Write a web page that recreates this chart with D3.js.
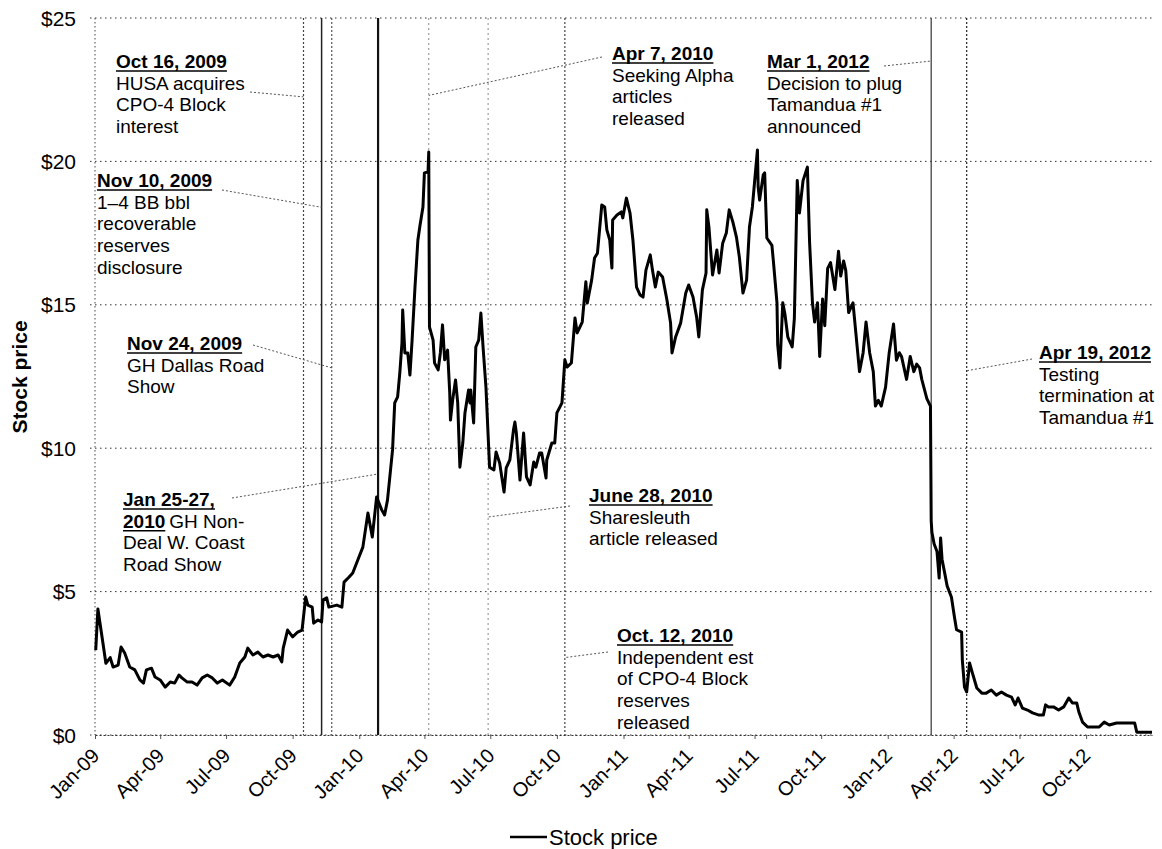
<!DOCTYPE html>
<html>
<head>
<meta charset="utf-8">
<script src="https://cdn.jsdelivr.net/npm/d3@7"></script>
<style>
body{margin:0;background:#fff}
svg{font-family:"Liberation Sans",Arial,sans-serif}
</style>
</head>
<body>
<svg id="chart" width="1162" height="849"></svg>
<script>
// stock price
const priceDates = [
"2009-01-02","2009-01-05","2009-01-12","2009-01-16","2009-01-22","2009-01-26","2009-02-02","2009-02-06","2009-02-11","2009-02-18",
"2009-02-25","2009-03-04","2009-03-09","2009-03-13","2009-03-20","2009-03-25","2009-04-01","2009-04-08","2009-04-15","2009-04-21",
"2009-04-27","2009-05-01","2009-05-08","2009-05-15","2009-05-22","2009-05-29","2009-06-05","2009-06-12","2009-06-19","2009-06-26",
"2009-07-06","2009-07-13","2009-07-20","2009-07-27","2009-07-31","2009-08-07","2009-08-14","2009-08-21","2009-08-28","2009-09-04",
"2009-09-11","2009-09-16","2009-09-18","2009-09-24","2009-10-01","2009-10-08","2009-10-14","2009-10-19","2009-10-22","2009-10-28",
"2009-10-30","2009-11-05","2009-11-10","2009-11-12","2009-11-17","2009-11-20","2009-12-01","2009-12-08","2009-12-11","2009-12-18",
"2009-12-23","2009-12-30",
"2010-01-06","2010-01-13","2010-01-19","2010-01-25","2010-02-01","2010-02-05","2010-02-09","2010-02-16","2010-02-19","2010-02-23",
"2010-02-26","2010-03-01","2010-03-02","2010-03-05","2010-03-09","2010-03-12","2010-03-15","2010-03-19","2010-03-23","2010-03-26",
"2010-03-30","2010-04-01","2010-04-06","2010-04-07","2010-04-08","2010-04-13","2010-04-15","2010-04-20","2010-04-23","2010-04-26",
"2010-04-29","2010-05-03","2010-05-06","2010-05-07","2010-05-10","2010-05-14","2010-05-17","2010-05-20","2010-05-24","2010-05-27",
"2010-06-01","2010-06-03","2010-06-04","2010-06-08","2010-06-11","2010-06-15","2010-06-18","2010-06-21","2010-06-25","2010-06-30",
"2010-07-06","2010-07-09","2010-07-14","2010-07-20","2010-07-23","2010-07-28","2010-08-02","2010-08-04","2010-08-06","2010-08-11",
"2010-08-16","2010-08-20","2010-08-25","2010-08-30","2010-09-02","2010-09-07","2010-09-10","2010-09-16","2010-09-17","2010-09-24",
"2010-09-28","2010-10-01","2010-10-08","2010-10-12","2010-10-15","2010-10-21","2010-10-26","2010-10-29","2010-11-05","2010-11-10",
"2010-11-12","2010-11-18","2010-11-22","2010-11-26","2010-12-02","2010-12-06","2010-12-09","2010-12-13","2010-12-16","2010-12-17",
"2010-12-23","2010-12-29","2010-12-31",
"2011-01-05","2011-01-10","2011-01-14","2011-01-19","2011-01-24","2011-01-28","2011-02-01","2011-02-07","2011-02-10","2011-02-14",
"2011-02-18","2011-02-24","2011-03-02","2011-03-07","2011-03-09","2011-03-14","2011-03-21","2011-03-28","2011-04-01","2011-04-07",
"2011-04-12","2011-04-15","2011-04-20","2011-04-25","2011-04-26","2011-04-29","2011-05-04","2011-05-10","2011-05-13","2011-05-18",
"2011-05-23","2011-05-27","2011-06-01","2011-06-06","2011-06-10","2011-06-15","2011-06-20","2011-06-24","2011-06-28","2011-07-05",
"2011-07-06","2011-07-08","2011-07-13","2011-07-15","2011-07-18","2011-07-25","2011-07-27","2011-08-01","2011-08-02","2011-08-05",
"2011-08-09","2011-08-12","2011-08-16","2011-08-22","2011-08-25","2011-08-29","2011-09-01","2011-09-06","2011-09-12","2011-09-15",
"2011-09-19","2011-09-22","2011-09-26","2011-09-29","2011-10-03","2011-10-06","2011-10-10","2011-10-14","2011-10-20","2011-10-25",
"2011-10-28","2011-11-01","2011-11-04","2011-11-08","2011-11-14","2011-11-18","2011-11-23","2011-11-28","2011-12-02","2011-12-07",
"2011-12-12","2011-12-15","2011-12-19","2011-12-23","2011-12-29",
"2012-01-03","2012-01-09","2012-01-13","2012-01-17","2012-01-20","2012-01-27","2012-02-01","2012-02-06","2012-02-10","2012-02-14",
"2012-02-17","2012-02-24","2012-02-29","2012-03-01","2012-03-02","2012-03-05","2012-03-09","2012-03-12","2012-03-14","2012-03-16",
"2012-03-20","2012-03-23","2012-03-29","2012-04-02","2012-04-05","2012-04-12","2012-04-13","2012-04-16","2012-04-19","2012-04-23",
"2012-04-27","2012-05-03","2012-05-10","2012-05-16","2012-05-23","2012-05-30","2012-06-06","2012-06-13","2012-06-20","2012-06-25",
"2012-06-29","2012-07-05","2012-07-12","2012-07-19","2012-07-27","2012-08-03","2012-08-06","2012-08-10","2012-08-17","2012-08-24",
"2012-08-31","2012-09-07","2012-09-12","2012-09-18","2012-09-21","2012-09-26","2012-10-03","2012-10-10","2012-10-19","2012-10-26",
"2012-11-02","2012-11-12","2012-11-20","2012-12-03","2012-12-07","2012-12-10","2012-12-18","2012-12-31"
];
const prices = [
2.96,4.39,3.20,2.50,2.70,2.37,2.44,3.07,2.86,2.37,
2.27,1.92,1.81,2.27,2.33,2.02,1.92,1.67,1.85,1.81,
2.09,1.99,1.85,1.85,1.74,1.99,2.09,1.99,1.81,1.92,
1.74,2.02,2.51,2.72,3.03,2.79,2.89,2.72,2.79,2.72,
2.79,2.55,3.03,3.66,3.42,3.59,3.66,4.81,4.53,4.46,
3.90,4.01,3.94,4.71,4.78,4.46,4.53,4.46,5.33,5.51,
5.65,6.10,
6.55,7.74,6.90,8.30,7.85,7.67,8.19,9.94,11.58,11.79,
12.62,13.67,14.82,13.32,13.32,12.55,13.77,15.62,17.26,17.78,
18.41,19.60,19.63,20.33,14.23,13.77,12.97,12.73,13.32,14.30,
13.08,13.42,11.92,10.98,11.68,12.38,11.58,9.34,10.18,11.23,
12.03,11.58,12.03,10.88,13.53,13.77,14.71,13.53,12.13,9.34,
9.24,9.87,9.48,8.47,9.31,9.59,10.63,10.91,10.53,8.89,
10.53,9.00,8.72,9.52,9.34,9.83,9.83,8.96,9.59,10.18,
10.18,11.23,11.58,13.08,12.83,12.97,14.54,14.02,14.40,15.80,
15.06,15.86,16.63,16.80,18.48,18.41,17.61,17.26,16.28,17.96,
18.13,18.24,18.03,
18.72,18.20,17.26,15.62,15.34,15.27,16.21,16.74,16.21,15.62,
16.14,15.97,15.17,14.37,13.32,13.88,14.37,15.41,15.69,15.27,
14.57,13.88,15.52,16.11,18.31,17.71,16.04,16.91,16.11,17.15,
17.50,18.31,17.89,17.36,16.67,15.41,15.86,17.71,18.41,20.40,
19.11,18.65,19.53,19.60,17.33,17.07,16.53,15.07,13.60,12.80,
15.07,14.67,13.87,13.53,14.53,19.33,18.20,19.33,19.80,17.20,
15.07,14.40,15.07,13.20,15.20,14.27,16.27,16.47,15.53,16.87,
16.00,16.53,16.20,14.73,15.07,14.00,12.67,13.33,14.40,13.33,
12.67,11.47,11.67,11.47,12.13,
13.33,14.33,13.07,13.33,13.20,12.40,13.20,12.67,12.93,12.80,
12.40,11.73,11.47,7.47,7.07,6.67,6.40,5.47,6.87,6.13,
5.60,5.20,4.80,4.13,3.67,3.59,2.62,1.67,1.50,2.51,
2.16,1.64,1.46,1.46,1.57,1.39,1.50,1.39,1.32,1.05,
1.29,0.94,0.87,0.77,0.70,0.70,1.05,0.98,0.98,0.87,
0.98,1.29,1.12,1.12,0.80,0.45,0.28,0.28,0.28,0.45,
0.35,0.42,0.42,0.42,0.42,0.10,0.10,0.10
];

const yTicks = [0, 5, 10, 15, 20, 25];
const yTickLabels = ["$0", "$5", "$10", "$15", "$20", "$25"];
const xTickLabels = ["Jan-09","Apr-09","Jul-09","Oct-09","Jan-10","Apr-10","Jul-10","Oct-10",
                     "Jan-11","Apr-11","Jul-11","Oct-11","Jan-12","Apr-12","Jul-12","Oct-12"];

// events
const eventDates = ["2009-10-16","2009-11-10","2009-11-24","2010-01-27","2010-04-07","2010-06-28","2010-10-12","2012-03-01","2012-04-19"];
const eventTitles = ["Oct 16, 2009","Nov 10, 2009","Nov 24, 2009","Jan 25-27,","Apr 7, 2010","June 28, 2010","Oct. 12, 2010","Mar 1, 2012","Apr 19, 2012"];
const eventNotes = [
  ["HUSA acquires","CPO-4 Block","interest"],
  ["1\u20134 BB bbl","recoverable","reserves","disclosure"],
  ["GH Dallas Road","Show"],
  ["2010|GH Non-","Deal W. Coast","Road Show"],
  ["Seeking Alpha","articles","released"],
  ["Sharesleuth","article released"],
  ["Independent est","of CPO-4 Block","reserves","released"],
  ["Decision to plug","Tamandua #1","announced"],
  ["Testing","termination at","Tamandua #1"]
];
// $ level where each leader line meets its event line
const leaderValues = [22.25, 18.4, 12.8, 9.1, 22.3, 7.6, 2.7, 23.5, 12.7];

// layout (pixels) for the annotation boxes
const labelPos = [[116,68],[97,187],[127,350],[123,506],[612,60],[589,502],[617,642],[767,68],[1039,359]];
const leaderStart = [[250,92],[222,190],[253,345],[232,498],[602,57],[570,506],[608,652],[884,66],[1032,359]];
const eventStyle = [
  {c:"#444", w:1.2, d:"2,2"}, {c:"#222", w:1.5, d:null}, {c:"#555", w:1.2, d:"2,2"},
  {c:"#111", w:2.2, d:null},  {c:"#888", w:1, d:"2,3"},  {c:"#888", w:1, d:"2,3"},
  {c:"#444", w:1.2, d:"2,2"}, {c:"#333", w:1.2, d:null}, {c:"#333", w:1.3, d:"2,2"}
];

const parse = d3.timeParse("%Y-%m-%d");
const parseTick = d3.timeParse("%b-%y");
const data = priceDates.map((d, i) => ({date: parse(d), v: prices[i]}));

const svg = d3.select("#chart");
const pLeft = 95, pRight = 1152, pTop = 18, pBottom = 735;

const x = d3.scaleTime().domain([parse("2009-01-01"), parse("2012-12-31")]).range([pLeft, pRight]);
const y = d3.scaleLinear().domain([0, 25]).range([pBottom, pTop]);

// horizontal grid
svg.append("g").selectAll("line").data(yTicks).join("line")
  .attr("x1", pLeft - 5).attr("x2", pRight)
  .attr("y1", d => y(d)).attr("y2", d => y(d))
  .attr("stroke", "#333").attr("stroke-width", 1).attr("stroke-dasharray", "1.5,3.5");

// y axis line
svg.append("line").attr("x1", pLeft).attr("x2", pLeft).attr("y1", pTop).attr("y2", pBottom)
  .attr("stroke", "#444").attr("stroke-width", 1).attr("stroke-dasharray", "1.5,2.5");

// y tick labels
svg.append("g").selectAll("text").data(yTicks).join("text")
  .attr("x", 76).attr("y", d => y(d)).attr("dy", "0.36em")
  .attr("text-anchor", "end").attr("font-size", 21)
  .text((d, i) => yTickLabels[i]);

// y title
svg.append("text").attr("transform", "translate(27,377) rotate(-90)")
  .attr("text-anchor", "middle").attr("font-size", 21).attr("font-weight", "bold")
  .text("Stock price");

// x axis
const xAxis = d3.axisBottom(x).tickValues(xTickLabels.map(parseTick))
  .tickFormat((d, i) => xTickLabels[i]).tickSize(4).tickSizeOuter(0);
const gx = svg.append("g").attr("transform", `translate(0,${pBottom})`).call(xAxis);
gx.select(".domain").attr("stroke", "#333").attr("stroke-dasharray", "2,2");
gx.selectAll(".tick line").attr("stroke", "#555");
gx.selectAll(".tick text")
  .attr("x", 0).attr("y", 0).attr("dy", 0)
  .attr("transform", "translate(5,22) rotate(-45)")
  .attr("text-anchor", "end").attr("font-size", 20).attr("fill", "#000")
  .attr("font-family", "Liberation Sans, Arial, sans-serif");

// event lines
svg.append("g").selectAll("line").data(eventDates).join("line")
  .attr("x1", d => x(parse(d))).attr("x2", d => x(parse(d)))
  .attr("y1", pTop).attr("y2", pBottom)
  .attr("stroke", (d, i) => eventStyle[i].c)
  .attr("stroke-width", (d, i) => eventStyle[i].w)
  .attr("stroke-dasharray", (d, i) => eventStyle[i].d);

// leader lines
svg.append("g").selectAll("line").data(eventDates).join("line")
  .attr("x1", (d, i) => leaderStart[i][0]).attr("y1", (d, i) => leaderStart[i][1])
  .attr("x2", d => x(parse(d))).attr("y2", (d, i) => y(leaderValues[i]))
  .attr("stroke", "#555").attr("stroke-width", 1).attr("stroke-dasharray", "2,2");

// price line
svg.append("path").datum(data)
  .attr("fill", "none").attr("stroke", "#000").attr("stroke-width", 3)
  .attr("stroke-linejoin", "round")
  .attr("d", d3.line().x(d => x(d.date)).y(d => y(d.v)));

// annotations
const fs = 19, lh = 21.7;
const ann = svg.append("g").attr("font-size", fs);
eventTitles.forEach((t, i) => {
  const [lx, ly] = labelPos[i];
  const title = ann.append("text").attr("x", lx).attr("y", ly)
    .attr("font-weight", "bold").text(t);
  const tw = title.node().getComputedTextLength();
  ann.append("line").attr("x1", lx).attr("x2", lx + tw)
    .attr("y1", ly + 3).attr("y2", ly + 3).attr("stroke", "#000").attr("stroke-width", 1.6);
  eventNotes[i].forEach((n, j) => {
    const by = ly + lh * (j + 1);
    if (n.includes("|")) {
      const [b, rest] = n.split("|");
      const bt = ann.append("text").attr("x", lx).attr("y", by).attr("font-weight", "bold").text(b);
      const bw = bt.node().getComputedTextLength();
      ann.append("line").attr("x1", lx).attr("x2", lx + bw)
        .attr("y1", by + 3).attr("y2", by + 3).attr("stroke", "#000").attr("stroke-width", 1.6);
      ann.append("text").attr("x", lx + bw + 4).attr("y", by).text(rest);
    } else {
      ann.append("text").attr("x", lx).attr("y", by).text(n);
    }
  });
});

// legend
svg.append("line").attr("x1", 510).attr("x2", 547).attr("y1", 837).attr("y2", 837)
  .attr("stroke", "#000").attr("stroke-width", 2.5);
svg.append("text").attr("x", 549).attr("y", 845).attr("font-size", 22).text("Stock price");
</script>
</body>
</html>
